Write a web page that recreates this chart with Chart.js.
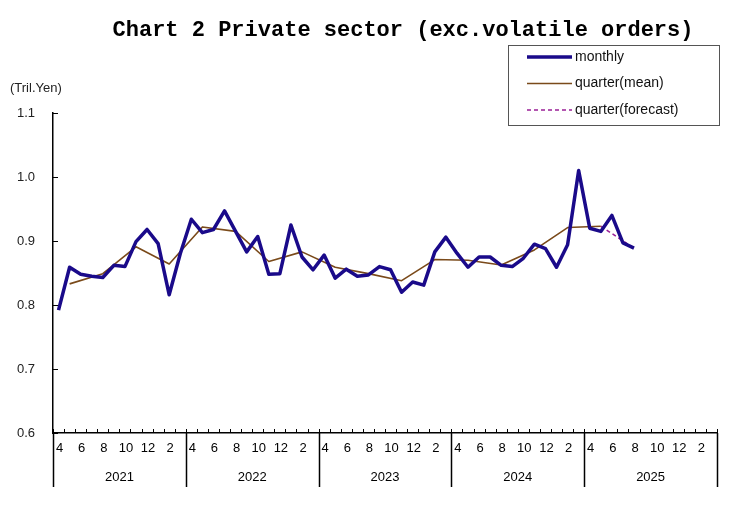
<!DOCTYPE html>
<html>
<head>
    <title>Chart 2 Private sector</title>
    <script src="https://cdn.jsdelivr.net/npm/chart.js"></script>
    <style>
        body { margin: 0; background: white; }
        #wrap { width: 747px; height: 507px; }
    </style>
</head>
<body>
    <div id="wrap">
        <canvas id="myChart" width="747" height="507"></canvas>
    </div>

    <script>
        // fiscal years (April - March) and the month numbers in each
        const fiscalYears = [2021, 2022, 2023, 2024, 2025];
        const monthNums = [4, 5, 6, 7, 8, 9, 10, 11, 12, 1, 2, 3];
        const monthTickLabels = ['4', '6', '8', '10', '12', '2'];

        // monthly orders, Apr 2021 - Aug 2025 (tril. yen)
        const monthly = [
            0.792, 0.859, 0.848, 0.845, 0.843, 0.862, 0.860, 0.899, 0.918, 0.896, 0.816, 0.880,
            0.934, 0.913, 0.918, 0.947, 0.915, 0.883, 0.907, 0.848, 0.849, 0.925, 0.875, 0.855,
            0.878, 0.842, 0.856, 0.845, 0.847, 0.860, 0.855, 0.820, 0.836, 0.831, 0.883, 0.906,
            0.881, 0.859, 0.875, 0.875, 0.862, 0.860, 0.873, 0.895, 0.888, 0.859, 0.894, 1.010,
            0.920, 0.915, 0.940, 0.897, 0.889
        ];

        // quarter means, plotted on the middle month of each quarter (from May 2021)
        const quarterMean = [
            0.833, 0.849, 0.891, 0.864,
            0.922, 0.915, 0.868, 0.883,
            0.859, 0.849, 0.838, 0.871,
            0.870, 0.8625, 0.886, 0.921,
            0.923
        ];

        // forecast: last actual quarter (Apr-Jun 2025) -> Jul-Sep 2025
        const quarterForecast = [0.923, 0.889];

        const yTicks = [0.6, 0.7, 0.8, 0.9, 1.0, 1.1];

        // build category axis and aligned series
        const labels = [];
        fiscalYears.forEach(fy => monthNums.forEach(m => labels.push(fy + '-' + m)));

        const monthlyData = labels.map((_, i) => i < monthly.length ? monthly[i] : null);
        const meanData = labels.map(() => null);
        quarterMean.forEach((v, q) => { meanData[q * 3 + 1] = v; });
        const fcData = labels.map(() => null);
        const fcStart = (quarterMean.length - 1) * 3 + 1;
        quarterForecast.forEach((v, k) => { fcData[fcStart + k * 3] = v; });

        const FONT = '"Liberation Sans", Arial, sans-serif';

        const decorations = {
            id: 'decorations',
            afterDraw(chart) {
                const ctx = chart.ctx;
                const xs = chart.scales.x, ys = chart.scales.y;
                const ca = chart.chartArea;
                const step = xs.getPixelForValue(1) - xs.getPixelForValue(0);
                const edge = i => xs.getPixelForValue(i) - step / 2;

                ctx.save();
                ctx.strokeStyle = '#000';
                ctx.fillStyle = '#000';
                ctx.lineWidth = 1;

                // month tick marks (pointing up)
                ctx.beginPath();
                for (let i = 0; i <= labels.length; i++) {
                    const px = Math.round(edge(i)) + 0.5;
                    ctx.moveTo(px, ca.bottom);
                    ctx.lineTo(px, ca.bottom - 4);
                }
                // y tick marks (pointing right)
                yTicks.forEach(v => {
                    const py = Math.round(ys.getPixelForValue(v)) + 0.5;
                    ctx.moveTo(ca.left, py);
                    ctx.lineTo(ca.left + 5, py);
                });
                ctx.stroke();

                // year separators
                ctx.lineWidth = 1.5;
                ctx.beginPath();
                for (let i = 0; i <= labels.length; i += 12) {
                    const px = Math.round(edge(i)) + 0.5;
                    ctx.moveTo(px, ca.bottom);
                    ctx.lineTo(px, ca.bottom + 54);
                }
                ctx.stroke();

                // month labels and year labels
                ctx.font = '13px ' + FONT;
                ctx.textAlign = 'center';
                ctx.textBaseline = 'middle';
                for (let i = 0; i < labels.length; i += 2) {
                    ctx.fillText(monthTickLabels[(i % 12) / 2], xs.getPixelForValue(i) + 1, ca.bottom + 15);
                }
                fiscalYears.forEach((fy, k) => {
                    const mid = (edge(k * 12) + edge(k * 12 + 12)) / 2;
                    ctx.fillText(String(fy), mid, ca.bottom + 44);
                });

                // unit label
                ctx.textAlign = 'left';
                ctx.fillStyle = '#222';
                ctx.fillText('(Tril.Yen)', 10, 88);

                // title
                ctx.fillStyle = '#000';
                ctx.textAlign = 'center';
                ctx.font = 'bold 22px "Liberation Mono", "Courier New", monospace';
                ctx.fillText('Chart 2 Private sector (exc.volatile orders)', 403, 30);

                // legend box
                const lx = 508, ly = 45, lw = 211, lh = 80;
                ctx.fillStyle = '#fff';
                ctx.fillRect(lx, ly, lw, lh);
                ctx.strokeStyle = '#555';
                ctx.lineWidth = 1;
                ctx.strokeRect(lx + 0.5, ly + 0.5, lw, lh);
                ctx.font = '14px ' + FONT;
                ctx.textAlign = 'left';
                chart.data.datasets.forEach((ds, k) => {
                    const ry = ly + 12 + k * 26.5;
                    ctx.strokeStyle = ds.borderColor;
                    ctx.lineWidth = ds.borderWidth;
                    ctx.setLineDash(ds.borderDash || []);
                    ctx.beginPath();
                    ctx.moveTo(lx + 19, ry);
                    ctx.lineTo(lx + 64, ry);
                    ctx.stroke();
                    ctx.setLineDash([]);
                    ctx.fillStyle = '#111';
                    ctx.fillText(ds.label, lx + 67, ry);
                });
                ctx.restore();
            }
        };

        new Chart(document.getElementById('myChart').getContext('2d'), {
            type: 'line',
            data: {
                labels: labels,
                datasets: [
                    {
                        label: 'monthly',
                        data: monthlyData,
                        borderColor: '#1a0a8a',
                        borderWidth: 3.5,
                        borderJoinStyle: 'round',
                        pointRadius: 0,
                        tension: 0,
                        spanGaps: false
                    },
                    {
                        label: 'quarter(mean)',
                        data: meanData,
                        borderColor: '#7a4a1a',
                        borderWidth: 1.6,
                        borderJoinStyle: 'round',
                        pointRadius: 0,
                        spanGaps: true
                    },
                    {
                        label: 'quarter(forecast)',
                        data: fcData,
                        borderColor: '#9a1f96',
                        borderWidth: 1.6,
                        borderDash: [4, 3],
                        pointRadius: 0,
                        spanGaps: true
                    }
                ]
            },
            options: {
                responsive: false,
                animation: false,
                layout: { padding: { top: 113, right: 30, left: 0, bottom: 0 } },
                plugins: {
                    legend: { display: false },
                    tooltip: { enabled: false }
                },
                scales: {
                    x: {
                        type: 'category',
                        offset: true,
                        grid: { display: false, drawTicks: false },
                        border: { display: true, color: '#000', width: 1.5 },
                        ticks: { display: false },
                        afterFit: s => { s.height = 74; }
                    },
                    y: {
                        min: 0.6,
                        max: 1.1,
                        grid: { display: false, drawTicks: false },
                        border: { display: true, color: '#000', width: 1.5 },
                        afterBuildTicks: s => { s.ticks = yTicks.map(v => ({ value: v })); },
                        ticks: {
                            padding: 18,
                            color: '#222',
                            font: { family: FONT, size: 13 },
                            callback: v => v.toFixed(1)
                        },
                        afterFit: s => { s.width = 53; }
                    }
                }
            },
            plugins: [decorations]
        });
    </script>
</body>
</html>
